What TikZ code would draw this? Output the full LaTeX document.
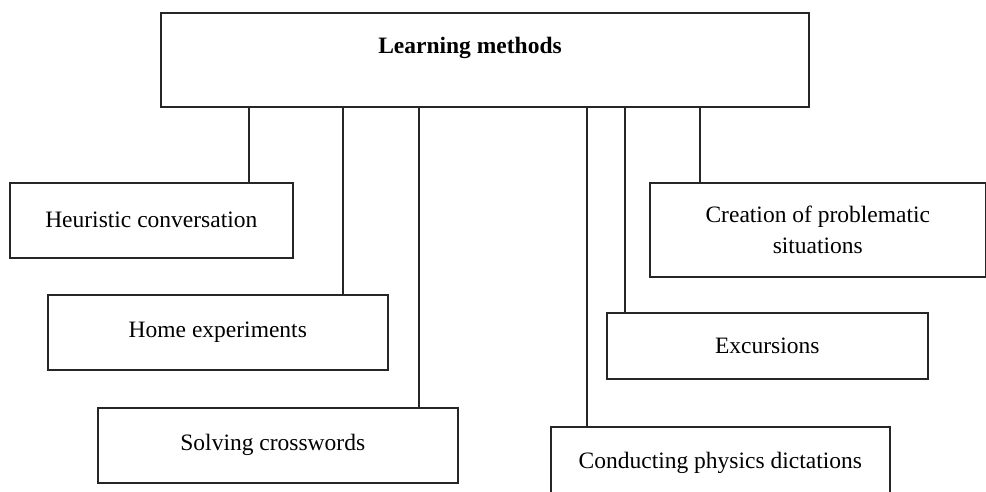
\documentclass[tikz,border=0pt]{standalone}
\usepackage{fontspec}
\setmainfont{Liberation Serif}
\begin{document}
\begin{tikzpicture}[x=1pt,y=-1pt,
  box/.style={draw=black!85, line width=1.6pt, rectangle, inner sep=0pt, anchor=north west,
    align=center, font=\fontsize{23.5}{31}\selectfont},
  conn/.style={draw=black!85, line width=1.6pt}]
\useasboundingbox (0,0) rectangle (986,491);
\fill[white] (0,0) rectangle (986,491);
\clip (0,0) rectangle (986,491);
% top box
\node[box, minimum width=648pt, minimum height=94pt] (top) at (160,12) {};
\node[font=\fontsize{23.5}{28}\selectfont\bfseries] (toplabel) at (470,48) {Learning methods};
% children
\node[box, minimum width=283pt, minimum height=75pt] (hc) at (9,182) {Heuristic conversation};
\node[box, minimum width=340pt, minimum height=75pt] (he) at (47,294) {Home experiments};
\node[box, minimum width=360pt, minimum height=75pt] (sc) at (97,407) {Solving crosswords\hspace{10pt}};
\node[box, minimum width=336pt, minimum height=94pt] (cp) at (649,182) {Creation of problematic\\situations};
\node[box, minimum width=321pt, minimum height=66pt] (ex) at (606,312) {Excursions};
\node[box, minimum width=339pt, minimum height=75pt, text depth=8pt] (cd) at (550,426) {Conducting physics dictations};
% connector x positions
\coordinate (x1) at (249,0);
\coordinate (x2) at (343,0);
\coordinate (x3) at (419,0);
\coordinate (x4) at (587,0);
\coordinate (x5) at (625,0);
\coordinate (x6) at (700,0);
\draw[conn] (top.south -| x1) -- (hc.north -| x1);
\draw[conn] (top.south -| x2) -- (he.north -| x2);
\draw[conn] (top.south -| x3) -- (sc.north -| x3);
\draw[conn] (top.south -| x4) -- (cd.north -| x4);
\draw[conn] (top.south -| x5) -- (ex.north -| x5);
\draw[conn] (top.south -| x6) -- (cp.north -| x6);
\end{tikzpicture}
\end{document}
